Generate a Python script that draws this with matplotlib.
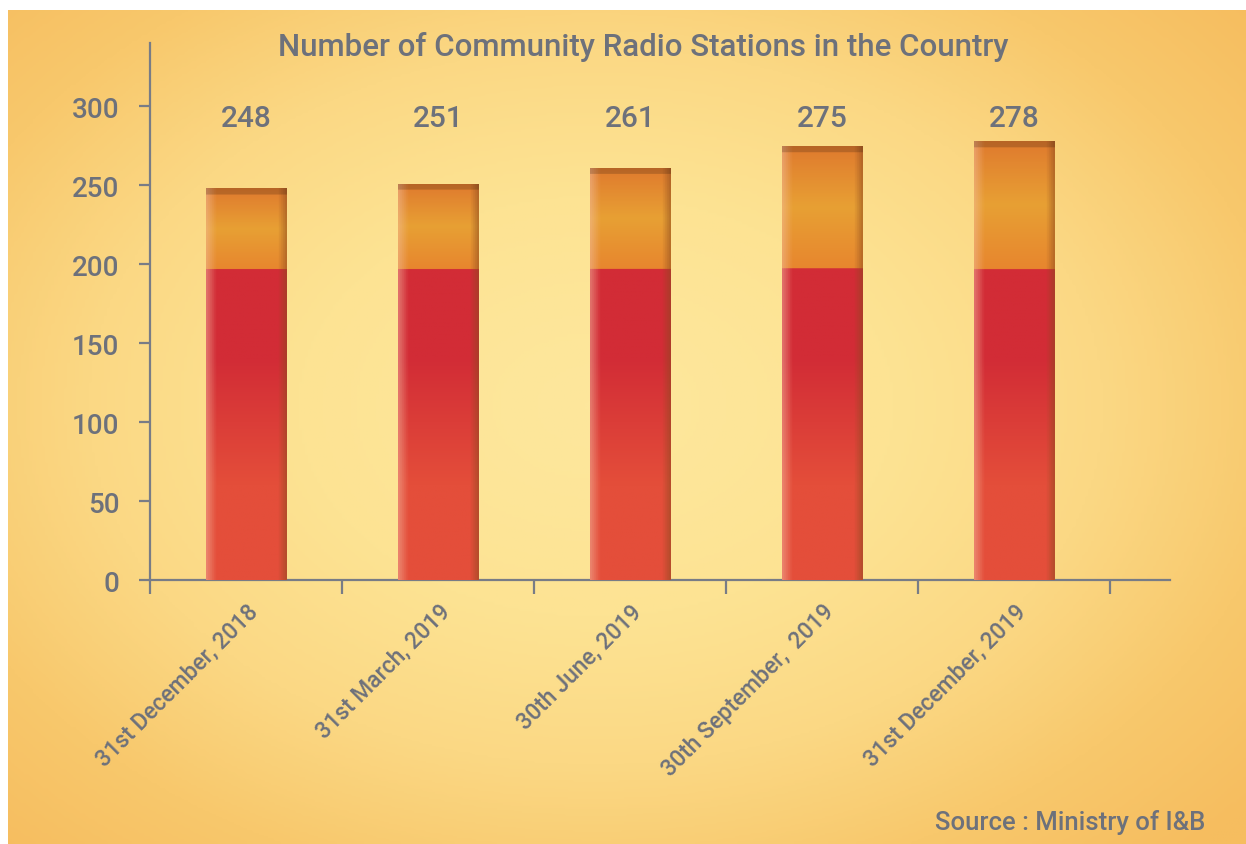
import numpy as np
import matplotlib
matplotlib.use("Agg")
import matplotlib.pyplot as plt
from matplotlib.colors import LinearSegmentedColormap, to_rgb
import matplotlib.transforms as mtransforms

# data
dates = ["31st December, 2018", "31st March, 2019", "30th June, 2019",
         "30th September,  2019", "31st December, 2019"]
stations = [248, 251, 261, 275, 278]

title = "Number of Community Radio Stations in the Country"
source = "Source : Ministry of I&B"
yticks = [0, 50, 100, 150, 200, 250, 300]

txt = "#6d717b"
axis_col = "#787c86"
plt.rcParams['font.family'] = ['Roboto', 'DejaVu Sans']
plt.rcParams['font.weight'] = 'medium'

W, H = 1246, 845
fig = plt.figure(figsize=(W / 100, H / 100), dpi=100, facecolor="white")

# background: warm radial gradient
bg = fig.add_axes([8 / W, 0, (W - 8) / W, (H - 11) / H])
bg.set_axis_off()
gx, gy = np.meshgrid(np.linspace(-1, 1, 400), np.linspace(-1, 1, 300))
r = np.sqrt(((gx + 0.05) / 1.0) ** 2 + ((gy + 0.05) / 1.05) ** 2)
r = np.clip(r, 0, 1.4) / 1.4
bg_cmap = LinearSegmentedColormap.from_list(
    "bg", ["#fde79c", "#fde393", "#fbd884", "#f8c86c", "#f6bd5f"])
bg.imshow(r ** 1.3, cmap=bg_cmap, aspect="auto", extent=[0, 1, 0, 1],
          vmin=0, vmax=1)
bg.set_xlim(0, 1)
bg.set_ylim(0, 1)

ax = fig.add_axes([150 / W, (H - 581) / H, 1020 / W, 537 / H])
ax.patch.set_alpha(0)
ax.set_xlim(-0.5, 4.8125)
ax.set_ylim(0, 340)

x = np.arange(len(dates))
bars = ax.bar(x, stations, width=0.42, color="none", edgecolor="none", zorder=3)

# shaded fill for each bar: orange-red base, deep red middle, orange top
red_top = 197
n = 300
c_base = np.array(to_rgb("#e44e3a"))
c_red = np.array(to_rgb("#d22c36"))
c_or1 = np.array(to_rgb("#e7862e"))
c_or2 = np.array(to_rgb("#e8a034"))
c_or3 = np.array(to_rgb("#df7a2e"))
for b, v in zip(bars, stations):
    ys = np.linspace(0, v, n)
    img = np.zeros((n, 40, 3))
    for i, yy in enumerate(ys):
        if yy < red_top:
            t = np.clip((yy - 60) / 80, 0, 1)
            c = c_base * (1 - t) + c_red * t
        else:
            t = (yy - red_top) / max(v - red_top, 1)
            if t < 0.5:
                c = c_or1 * (1 - 2 * t) + c_or2 * 2 * t
            else:
                c = c_or2 * (2 - 2 * t) + c_or3 * (2 * t - 1)
        img[i, :, :] = c
    # edge shading: light left, dark right
    xs = np.linspace(0, 1, 40)
    light = np.clip(1 - xs / 0.12, 0, 1)[None, :, None]
    dark = np.clip((xs - 0.9) / 0.1, 0, 1)[None, :, None]
    img = img * (1 - 0.45 * light) + np.array(to_rgb("#f4c2a8")) * 0.45 * light
    img = img * (1 - 0.5 * dark) + np.array(to_rgb("#8a4a1e")) * 0.5 * dark
    # darker top rim
    img[-5:, :, :] = img[-5:, :, :] * 0.82
    im = ax.imshow(img, origin="lower", aspect="auto", zorder=3,
                   extent=[b.get_x(), b.get_x() + b.get_width(), 0, v])
    im.set_clip_path(b)

# value labels sit on a common line near the top
trans = mtransforms.blended_transform_factory(ax.transData, ax.transAxes)
for xi, v in zip(x, stations):
    ax.text(xi, 0.86, str(v), transform=trans, ha="center", va="center",
            fontsize=21.5, color=txt)

for s in ["top", "right"]:
    ax.spines[s].set_visible(False)
for s in ["left", "bottom"]:
    ax.spines[s].set_color(axis_col)
    ax.spines[s].set_linewidth(1.6)

ax.set_yticks(yticks)
ax.set_yticklabels([str(t) for t in yticks], fontsize=20, color=txt)
ax.tick_params(axis="y", length=8, width=1.6, color=axis_col, pad=14)

ax.set_xticks(np.arange(len(dates) + 1) - 0.5)
ax.set_xticklabels([])
ax.tick_params(axis="x", which="major", length=10, width=1.6, color=axis_col)
ax.set_xticks(x, minor=True)
ax.set_xticklabels(dates, minor=True, rotation=45, ha="right", va="top",
                   rotation_mode="anchor", fontsize=16.5, color=txt)
ax.tick_params(axis="x", which="minor", length=0, pad=14)

fig.text(643 / W, 1 - 47 / H, title, ha="center", va="center",
         fontsize=22.5, color=txt)
fig.text(1205 / W, 1 - 823 / H, source, ha="right", va="center",
         fontsize=18.5, color=txt)

fig.savefig("out.png", dpi=100, facecolor="white")
